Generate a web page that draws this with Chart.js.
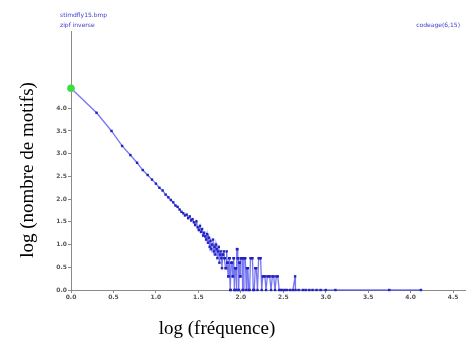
<!DOCTYPE html>
<html>
<head>
<meta charset="utf-8">
<script src="https://cdn.jsdelivr.net/npm/chart.js@4/dist/chart.umd.min.js"></script>
<style>
  html, body { margin: 0; padding: 0; background: #ffffff; }
  #wrap { position: relative; width: 469px; height: 344px; }
</style>
</head>
<body>
<div id="wrap"><canvas id="c" width="469" height="344"></canvas></div>
<script>
// log10(frequency) of each motif-frequency class
const logFreq = [
  0.000, 0.301, 0.477, 0.602, 0.699, 0.778, 0.845, 0.903, 0.954, 1.000,
  1.041, 1.079, 1.114, 1.146, 1.176, 1.204, 1.230, 1.255, 1.279, 1.301,
  1.322, 1.342, 1.362, 1.380, 1.398, 1.415, 1.431, 1.447, 1.462, 1.477,
  1.491, 1.505, 1.519, 1.531, 1.544, 1.556, 1.568, 1.580, 1.591, 1.602,
  1.613, 1.623, 1.633, 1.643, 1.653, 1.663, 1.672, 1.681, 1.690, 1.699,
  1.708, 1.716, 1.724, 1.732, 1.740, 1.748, 1.756, 1.763, 1.771, 1.778,
  1.785, 1.792, 1.799, 1.806, 1.813, 1.820, 1.826, 1.833, 1.839, 1.845,
  1.851, 1.857, 1.863, 1.869, 1.875, 1.881, 1.886, 1.892, 1.898, 1.903,
  1.908, 1.914, 1.919, 1.924, 1.929, 1.934, 1.940, 1.944, 1.949, 1.954,
  1.959, 1.964, 1.968, 1.973, 1.978, 1.982, 1.987, 1.991, 1.996, 2.000,
  2.009, 2.017, 2.021, 2.029, 2.037, 2.045, 2.053, 2.064, 2.072, 2.083,
  2.093, 2.104, 2.114, 2.124, 2.137, 2.146, 2.158, 2.170, 2.182, 2.196,
  2.210, 2.220, 2.233, 2.246, 2.258, 2.270, 2.283, 2.297, 2.312, 2.326,
  2.340, 2.356, 2.371, 2.387, 2.403, 2.418, 2.435, 2.452, 2.470, 2.491,
  2.519, 2.544, 2.580, 2.613, 2.639, 2.643, 2.681, 2.732, 2.763, 2.806,
  2.845, 2.892, 2.940, 3.000, 3.114, 3.748, 4.121
];
// log10(number of motifs) for each class
const logCount = [
  4.44, 3.90, 3.50, 3.17, 2.97, 2.80, 2.64, 2.53, 2.43, 2.34,
  2.25, 2.19, 2.10, 2.04, 1.98, 1.93, 1.86, 1.83, 1.77, 1.72,
  1.69, 1.64, 1.66, 1.58, 1.62, 1.53, 1.56, 1.49, 1.43, 1.51,
  1.38, 1.32, 1.41, 1.28, 1.34, 1.20, 1.26, 1.18, 1.11, 1.23,
  1.04, 1.15, 0.95, 1.08, 0.90, 1.00, 1.11, 0.85, 0.95, 0.78,
  1.00, 0.90, 0.70, 0.85, 0.95, 0.60, 0.78, 0.85, 0.70, 0.48,
  0.78, 0.78, 0.85, 0.70, 0.70, 0.48, 0.48, 0.85, 0.60, 0.60,
  0.30, 0.30, 0.70, 0.70, 0.00, 0.00, 0.60, 0.60, 0.60, 0.30,
  0.30, 0.70, 0.70, 0.00, 0.00, 0.48, 0.48, 0.48, 0.00, 0.90,
  0.90, 0.70, 0.70, 0.00, 0.00, 0.60, 0.60, 0.30, 0.30, 0.70,
  0.70, 0.70, 0.00, 0.00, 0.70, 0.70, 0.70, 0.00, 0.48, 0.48,
  0.00, 0.00, 0.70, 0.70, 0.70, 0.00, 0.00, 0.48, 0.48, 0.00,
  0.70, 0.70, 0.70, 0.00, 0.30, 0.30, 0.30, 0.00, 0.30, 0.30,
  0.30, 0.00, 0.30, 0.30, 0.00, 0.30, 0.30, 0.00, 0.00, 0.00,
  0.00, 0.00, 0.00, 0.00, 0.30, 0.00, 0.00, 0.00, 0.00, 0.00,
  0.00, 0.00, 0.00, 0.00, 0.00, 0.00, 0.00
];
const xTickValues = [0.0, 0.5, 1.0, 1.5, 2.0, 2.5, 3.0, 3.5, 4.0, 4.5];
const yTickValues = [0.0, 0.5, 1.0, 1.5, 2.0, 2.5, 3.0, 3.5, 4.0];
const xTitle = 'log (fréquence)';
const yTitle = 'log (nombre de motifs)';
const noteFile = 'stimdfly15.bmp';
const noteMode = 'zipf inverse';
const noteCode = 'codeage(6,15)';

const points = logFreq.map((x, i) => ({ x: x, y: logCount[i] }));

const extraText = {
  id: 'extraText',
  afterDraw(chart) {
    const ctx = chart.ctx;
    const a = chart.chartArea;
    ctx.save();
    ctx.fillStyle = '#3b3bcc';
    ctx.font = '6px "DejaVu Sans"';
    ctx.textBaseline = 'alphabetic';
    ctx.textAlign = 'left';
    ctx.fillText(noteFile, a.left - 11, 17);
    ctx.fillText(noteMode, a.left - 11, 27);
    ctx.textAlign = 'right';
    ctx.fillText(noteCode, a.right - 5, 27);
    ctx.fillStyle = '#000000';
    ctx.font = '19px "Liberation Serif"';
    ctx.textAlign = 'center';
    ctx.textBaseline = 'middle';
    ctx.fillText(xTitle, 217, 329);
    ctx.translate(28, 170);
    ctx.rotate(-Math.PI / 2);
    ctx.fillText(yTitle, 0, 0);
    ctx.restore();
  }
};

new Chart(document.getElementById('c'), {
  type: 'scatter',
  data: {
    datasets: [{
      data: points,
      showLine: true,
      clip: false,
      borderColor: 'rgba(60,60,235,0.7)',
      borderWidth: 1.3,
      pointStyle: (c) => c.dataIndex === 0 ? 'circle' : 'rect',
      pointRadius: (c) => c.dataIndex === 0 ? 3.8 : 1.7,
      pointBorderWidth: 0,
      pointBackgroundColor: (c) => c.dataIndex === 0 ? '#3fdc3f' : '#2222c0',
      pointBorderColor: (c) => c.dataIndex === 0 ? '#3fdc3f' : '#2222c0',
      tension: 0
    }]
  },
  options: {
    responsive: false,
    animation: false,
    layout: { padding: { left: 0, top: 31, right: 4, bottom: 0 } },
    plugins: { legend: { display: false }, tooltip: { enabled: false } },
    scales: {
      x: {
        type: 'linear',
        min: 0,
        max: 4.64,
        afterFit: (s) => { s.height = 54; },
        afterBuildTicks: (s) => { s.ticks = xTickValues.map(v => ({ value: v })); },
        border: { display: true, color: '#8a8a8a', width: 1 },
        grid: { display: true, drawOnChartArea: false, drawTicks: true, tickLength: 3, color: '#8a8a8a' },
        ticks: {
          padding: 1,
          color: '#555555',
          font: { family: 'DejaVu Sans', size: 6, weight: 'bold' },
          callback: (v) => Number(v).toFixed(1)
        }
      },
      y: {
        type: 'linear',
        min: 0,
        max: 5.7,
        afterFit: (s) => { s.width = 71; },
        afterBuildTicks: (s) => { s.ticks = yTickValues.map(v => ({ value: v })); },
        border: { display: true, color: '#8a8a8a', width: 1 },
        grid: { display: true, drawOnChartArea: false, drawTicks: true, tickLength: 3, color: '#8a8a8a' },
        ticks: {
          padding: 1,
          color: '#555555',
          font: { family: 'DejaVu Sans', size: 6, weight: 'bold' },
          callback: (v) => Number(v).toFixed(1)
        }
      }
    }
  },
  plugins: [extraText]
});
</script>
</body>
</html>
